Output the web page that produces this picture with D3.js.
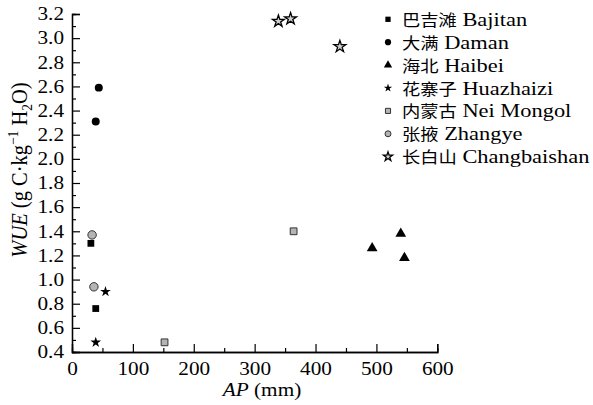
<!DOCTYPE html>
<html>
<head>
<meta charset="utf-8">
<script src="https://cdn.jsdelivr.net/npm/d3@7"></script>
<style>
  html, body { margin: 0; padding: 0; background: #fff; }
  svg { display: block; }
  text { font-family: "Liberation Serif", "Times New Roman", "Noto Sans CJK SC", serif; fill: #000; }
  .cjk { font-family: "Noto Sans CJK SC", sans-serif; }
</style>
</head>
<body>
<svg id="chart" width="593" height="405"></svg>
<script>
// Annual precipitation (mm) and water-use efficiency per site
const siteNamesZh = ["巴吉滩", "大满", "海北", "花寨子", "内蒙古", "张掖", "长白山"];
const siteNamesEn = ["Bajitan", "Daman", "Haibei", "Huazhaizi", "Nei Mongol", "Zhangye", "Changbaishan"];
const bajitanAP = [31, 39];        const bajitanWUE = [1.30, 0.76];
const damanAP = [44, 39];          const damanWUE = [2.59, 2.31];
const haibeiAP = [540, 493, 546];  const haibeiWUE = [1.38, 1.26, 1.18];
const huazhaiziAP = [55, 39];      const huazhaiziWUE = [0.90, 0.48];
const neiMongolAP = [364, 152];    const neiMongolWUE = [1.40, 0.48];
const zhangyeAP = [33, 36];        const zhangyeWUE = [1.37, 0.94];
const changbaishanAP = [339, 359, 440]; const changbaishanWUE = [3.14, 3.16, 2.93];

const xTicks = [0, 100, 200, 300, 400, 500, 600];
const yTicks = [0.4, 0.6, 0.8, 1.0, 1.2, 1.4, 1.6, 1.8, 2.0, 2.2, 2.4, 2.6, 2.8, 3.0, 3.2];

// text is drawn slightly widened horizontally
const SX = 1.18;

const svg = d3.select("#chart");
const x = d3.scaleLinear().domain([0, 600]).range([72, 437.3]);
const y = d3.scaleLinear().domain([0.4, 3.2]).range([352, 14]);

// symbol styles per site
const styles = [
  { type: d3.symbolSquare,   size: 46, fill: "#000",    stroke: "none", sw: 0,   lsize: 28 },
  { type: d3.symbolCircle,   size: 50, fill: "#000",    stroke: "none", sw: 0,   lsize: 30 },
  { type: d3.symbolTriangle, size: 50, fill: "#000",    stroke: "none", sw: 0,   lsize: 30 },
  { type: d3.symbolStar,     size: 36, fill: "#000",    stroke: "none", sw: 0,   lsize: 22 },
  { type: d3.symbolSquare,   size: 46, fill: "#b4b4b4", stroke: "#333", sw: 1,   lsize: 26 },
  { type: d3.symbolCircle,   size: 56, fill: "#b4b4b4", stroke: "#333", sw: 1,   lsize: 28 },
  { type: d3.symbolStar,     size: 44, fill: "#d0d0d0", stroke: "#000", sw: 1.3, lsize: 26 }
];
const series = [
  [bajitanAP, bajitanWUE], [damanAP, damanWUE], [haibeiAP, haibeiWUE],
  [huazhaiziAP, huazhaiziWUE], [neiMongolAP, neiMongolWUE],
  [zhangyeAP, zhangyeWUE], [changbaishanAP, changbaishanWUE]
];

// axes: ticks point inward, minor ticks between majors
const xAxis = d3.axisBottom(x).tickValues(xTicks).tickSize(-8).tickPadding(10).tickFormat(d3.format("d"));
const xMinor = d3.axisBottom(x).tickValues(d3.range(50, 600, 100)).tickSize(-4).tickFormat("");
const yAxis = d3.axisLeft(y).tickValues(yTicks).tickSize(-8).tickPadding(8).tickFormat(d3.format(".1f"));
const yMinor = d3.axisLeft(y).tickValues(d3.range(0.5, 3.2, 0.2)).tickSize(-4).tickFormat("");

function styleAxis(g) {
  g.attr("font-family", null);
  g.select(".domain").attr("stroke", "#000").attr("stroke-width", 1.3);
  g.selectAll(".tick line").attr("stroke", "#000").attr("stroke-width", 1.2);
  g.selectAll(".tick text").style("font-size", "18px").attr("fill", "#000")
    .each(function () {
      const t = d3.select(this);
      const tx = +t.attr("x") || 0;
      t.attr("x", tx / SX).attr("transform", `scale(${SX},1)`);
    });
}
svg.append("g").attr("transform", "translate(0,352)").call(xMinor).call(styleAxis);
svg.append("g").attr("transform", "translate(72,0)").call(yMinor).call(styleAxis);
svg.append("g").attr("transform", "translate(0,352)").call(xAxis).call(styleAxis);
svg.append("g").attr("transform", "translate(72,0)").call(yAxis).call(styleAxis);

// axis titles
const xt = svg.append("text").attr("transform", `translate(262,396) scale(${SX},1)`)
  .attr("text-anchor", "middle").style("font-size", "18px");
xt.append("tspan").style("font-style", "italic").text("AP");
xt.append("tspan").text(" (mm)");

const yt = svg.append("text").attr("transform", `translate(27,170) rotate(-90) scale(1,1.1)`)
  .attr("text-anchor", "middle").style("font-size", "20.5px");
yt.append("tspan").style("font-style", "italic").text("WUE");
yt.append("tspan").text(" (g C·kg");
yt.append("tspan").attr("dy", -8).style("font-size", "13.5px").text("−1");
yt.append("tspan").attr("dy", 8).text(" H");
yt.append("tspan").attr("dy", 4.5).style("font-size", "13.5px").text("2");
yt.append("tspan").attr("dy", -4.5).text("O)");

// points
series.forEach((s, i) => {
  const st = styles[i];
  const pts = s[0].map((ap, j) => ({ ap, wue: s[1][j] }));
  svg.append("g").selectAll("path").data(pts).join("path")
    .attr("d", d3.symbol().type(st.type).size(st.size))
    .attr("transform", d => `translate(${x(d.ap)},${y(d.wue)})`)
    .attr("fill", st.fill).attr("stroke", st.stroke).attr("stroke-width", st.sw);
});

// legend
const legend = svg.append("g");
siteNamesZh.forEach((zh, i) => {
  const st = styles[i];
  const ly = 19.3 + i * 22.9;
  legend.append("path")
    .attr("d", d3.symbol().type(st.type).size(st.lsize))
    .attr("transform", `translate(388,${ly})`)
    .attr("fill", st.fill).attr("stroke", st.stroke).attr("stroke-width", st.sw);
  const t = legend.append("text").attr("transform", `translate(402,${ly + 6.5}) scale(${SX},1)`)
    .style("font-size", "19px");
  t.append("tspan").attr("class", "cjk").style("font-size", "15.5px").text(zh);
  t.append("tspan").text(" " + siteNamesEn[i]);
});
</script>
</body>
</html>
